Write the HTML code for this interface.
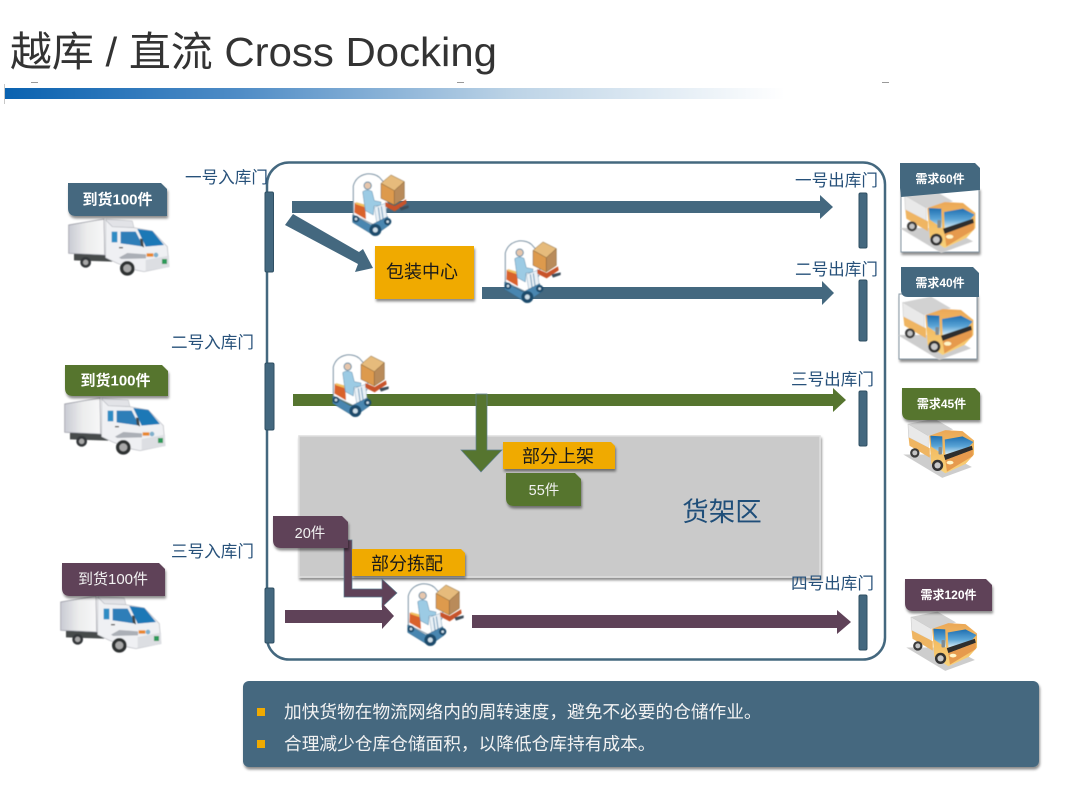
<!DOCTYPE html>
<html lang="zh">
<head>
<meta charset="utf-8">
<style>
html,body{margin:0;padding:0;background:#fff;width:1080px;height:810px;overflow:hidden}
svg{display:block}
text{font-family:"Liberation Sans","Noto Sans CJK SC",sans-serif}
.gate{fill:#44687f;stroke:#2f4f63;stroke-width:1}
.lab{font-size:16.6px;fill:#27517a}
.tag{font-size:15px;font-weight:bold;fill:#fff;text-anchor:middle}
.tag2{font-size:12px;font-weight:bold;fill:#fff;text-anchor:middle}
.blk{font-size:18px;fill:#1a1a1a;text-anchor:middle}
.bul{font-size:17.7px;fill:#f2f2f2}
</style>
</head>
<body>
<svg width="1080" height="810" viewBox="0 0 1080 810" xmlns="http://www.w3.org/2000/svg">
<defs>
<linearGradient id="bar" x1="0" x2="1" y1="0" y2="0">
<stop offset="0" stop-color="#0a62b0"/><stop offset=".3" stop-color="#4f8cc6"/><stop offset=".65" stop-color="#bcd3e6"/><stop offset="1" stop-color="#fff"/>
</linearGradient>
<linearGradient id="boxg" x1="0" x2="1" y1="0" y2="0"><stop offset="0" stop-color="#c9cad3"/><stop offset=".5" stop-color="#eceded"/><stop offset="1" stop-color="#f7f7f8"/></linearGradient>
<linearGradient id="winb" x1="0" x2="0" y1="0" y2="1"><stop offset="0" stop-color="#1f6fb0"/><stop offset=".55" stop-color="#5aa4d6"/><stop offset="1" stop-color="#d8edf6"/></linearGradient>
<linearGradient id="yel" x1="0" x2="0" y1="0" y2="1"><stop offset="0" stop-color="#eba858"/><stop offset=".4" stop-color="#f3bb62"/><stop offset="1" stop-color="#f8d27a"/></linearGradient>
<filter id="sh" x="-10%" y="-10%" width="125%" height="130%"><feDropShadow dx="1" dy="2.5" stdDeviation="1.4" flood-color="#000" flood-opacity=".45"/></filter>
<filter id="soft" x="-5%" y="-5%" width="110%" height="110%"><feGaussianBlur stdDeviation=".4"/></filter>

<symbol id="wt" viewBox="0 0 102 60" overflow="visible">
<g filter="url(#soft)"><g transform="translate(-4,-3) scale(.3333)">
<polygon points="30,116 145,122 145,140 30,136" fill="#474b4c"/>
<polygon points="14,30 120,12 122,120 14,115" fill="url(#boxg)" stroke="#8f919b" stroke-width="2"/>
<polygon points="125,12 205,18 210,38 135,36" fill="#e2e3e7" stroke="#b5b7bd" stroke-width="1.500"/>
<polygon points="125,15 145,35 210,38 265,48 310,95 315,155 240,170 215,165 160,145 125,128" fill="#eff0f3" stroke="#b9bbc1" stroke-width="2"/>
<polygon points="143,50 160,50 160,82 143,82" fill="#2e8cc4"/>
<polygon points="170,50 215,50 238,95 170,85" fill="#2e7eb8"/>
<polygon points="220,42 265,48 300,90 245,95" fill="#1d78b6"/>
<polygon points="228,70 236,72 240,98 230,92" fill="#40474c"/>
<polygon points="165,128 190,114 246,118 246,130 172,132" fill="#abafb6"/>
<rect x="165" y="96" width="12" height="4" fill="#555"/>
<rect x="248" y="115" width="20" height="10" fill="#e8862a"/>
<circle cx="276" cy="120" r="7" fill="#7fb0cc"/>
<polygon points="245,135 315,122 316,156 245,168" fill="#dcdee2"/>
<rect x="294" y="132" width="15" height="15" fill="#2f9a5a"/>
<circle cx="65" cy="142" r="16" fill="#34373a"/><circle cx="65" cy="142" r="8" fill="#a8a8a8"/>
<circle cx="190" cy="160" r="22" fill="#2e3032"/><circle cx="190" cy="160" r="12" fill="#a8a8a8"/>
</g></g>
</symbol>

<symbol id="yt" viewBox="0 0 78 62" overflow="visible">
<g filter="url(#soft)"><g transform="translate(-3,-1) scale(.3333)">
<polygon points="5,120 130,195 225,160 150,120" fill="#cdcdcd"/>
<polygon points="20,22 105,5 165,40 85,60" fill="#d2d2d2"/>
<polygon points="20,22 85,60 85,98 22,65" fill="#e9e9e9" stroke="#c4c4c4" stroke-width="1.500"/>
<polygon points="22,65 90,100 90,130 25,92" fill="#efb562"/>
<polygon points="88,60 140,42 195,45 232,75 232,120 205,150 140,180 95,150" fill="url(#yel)"/>
<polygon points="92,60 130,62 132,120 95,95" fill="url(#winb)"/>
<polygon points="138,72 195,62 230,80 212,100 140,120" fill="url(#winb)"/>
<polygon points="135,122 225,92 228,105 140,138" fill="#2d2d2d"/>
<polygon points="140,138 228,105 228,125 145,175" fill="#e69a4e"/>
<rect x="118" y="96" width="11" height="24" rx="3" fill="#7f8b92"/>
<ellipse cx="155" cy="146" rx="11" ry="6" fill="#fff6c8"/>
<circle cx="42" cy="115" r="15" fill="#3a3a3a"/><circle cx="42" cy="115" r="8" fill="#c4c4c4"/>
<circle cx="115" cy="155" r="18" fill="#333"/><circle cx="115" cy="155" r="10" fill="#c8c8c8"/>
</g></g>
</symbol>

<symbol id="fl" viewBox="0 0 56 65" overflow="visible">
<g filter="url(#soft)"><g transform="translate(-4,-3) scale(.3333)">
<path d="M22,125 V48 Q30,18 62,12 Q85,10 100,22 L125,50 V110 L95,170 L22,135Z" fill="#fff" stroke="#6f8b9f" stroke-width="3"/>
<polygon points="26,98 58,110 60,148 25,128" fill="#d9622a"/>
<polygon points="30,96 55,103 58,112 28,102" fill="#f1c15e"/>
<circle cx="65" cy="47" r="11" fill="#e6c6ac" stroke="#5f8aa5" stroke-width="3"/>
<path d="M50,65 Q62,56 78,64 L85,92 L105,96 L104,106 L84,108 L82,135 L58,122Z" fill="#9ccbe4" stroke="#4f83a5" stroke-width="1.500"/>
<polygon points="85,112 118,100 126,165 96,182" fill="#eaf1f6" stroke="#7fa3bb" stroke-width="1.500"/>
<path d="M97,112 L105,172 M106,109 L114,167" stroke="#6f9cbb" stroke-width="3"/>
<polygon points="20,135 75,165 125,140 130,165 85,197 20,157" fill="#4a86b0" stroke="#2f5f7f" stroke-width="1.500"/>
<polygon points="118,96 146,108 180,88 182,100 146,124 118,110" fill="#c8532a"/>
<polygon points="160,112 188,106 188,114 165,122" fill="#3d4e5a"/>
<polygon points="105,40 135,15 175,35 145,62" fill="#e6bb7c" stroke="#7a5a30" stroke-width="1.500"/>
<polygon points="105,40 145,62 145,105 105,85" fill="#dd9a4e" stroke="#7a5a30" stroke-width="1.500"/>
<polygon points="145,62 175,35 175,85 145,105" fill="#b98b5a" stroke="#7a5a30" stroke-width="1.500"/>
<circle cx="30" cy="147" r="10" fill="#1d4c6c"/><circle cx="30" cy="147" r="4" fill="#cfe0ea"/>
<circle cx="125" cy="155" r="11" fill="#1d4c6c"/><circle cx="125" cy="155" r="4" fill="#cfe0ea"/>
<circle cx="88" cy="180" r="18" fill="#1d4c6c"/><circle cx="88" cy="180" r="7.500" fill="#cfe0ea"/>
</g></g>
</symbol>
</defs>

<rect width="1080" height="810" fill="#fff"/>

<!-- Title -->
<text x="10" y="66" font-size="41" fill="#333" textLength="487" lengthAdjust="spacingAndGlyphs">越库 / 直流 Cross Docking</text>
<rect x="5" y="88" width="780" height="11" fill="url(#bar)"/>
<rect x="4" y="84" width="1" height="20" fill="#c8c8c8"/>
<rect x="31" y="82" width="7" height="1" fill="#999"/><rect x="457" y="82" width="7" height="1" fill="#999"/><rect x="882" y="82" width="7" height="1" fill="#999"/>

<!-- Shelf area -->
<rect x="299" y="436" width="521" height="141" fill="#cacaca" stroke="#dedede" stroke-width="1.500" filter="url(#sh)"/>
<text x="722" y="521" font-size="26.500" fill="#1f4e79" text-anchor="middle">货架区</text>

<!-- Frame -->
<rect x="267" y="162.500" width="618" height="497" rx="22" fill="none" stroke="#44687f" stroke-width="2.500"/>

<!-- Gates -->
<rect class="gate" x="265" y="192" width="8.500" height="80" rx="1.500"/>
<rect class="gate" x="265" y="363" width="9" height="67" rx="1.500"/>
<rect class="gate" x="265" y="588" width="9" height="55" rx="1.500"/>
<rect class="gate" x="859" y="193" width="8" height="55" rx="1.500"/>
<rect class="gate" x="859" y="280" width="8" height="61" rx="1.500"/>
<rect class="gate" x="859" y="391" width="8" height="55" rx="1.500"/>
<rect class="gate" x="859" y="595" width="8" height="55" rx="1.500"/>

<!-- Labels -->
<text class="lab" x="185" y="183">一号入库门</text>
<text class="lab" x="171" y="348">二号入库门</text>
<text class="lab" x="171" y="557">三号入库门</text>
<text class="lab" x="795" y="186">一号出库门</text>
<text class="lab" x="795" y="275">二号出库门</text>
<text class="lab" x="791" y="385">三号出库门</text>
<text class="lab" x="791" y="589">四号出库门</text>

<!-- Blue arrows -->
<polygon points="292,201 820,201 820,195 833,207 820,219 820,213 292,213" fill="#44687f"/>
<polygon points="293,214 359,252 363,249 373,268 355,272 358,264 285,225" fill="#44687f"/>
<polygon points="482,287 822,287 822,281 834,293 822,305 822,299 482,299" fill="#44687f"/>

<!-- Green arrows -->
<polygon points="293,394 833,394 833,388 846,400 833,412 833,406 293,406" fill="#56752f"/>
<polygon points="476,394 487,394 487,450 502,450 481,472 461,450 476,450" fill="#56752f" stroke="#5f7f90" stroke-width=".7"/>

<!-- Purple arrows -->
<polygon points="344,540 352,540 352,589 382,589 382,579 397,593 382,607 382,597 344,597" fill="#5f4258" stroke="#5f7f90" stroke-width=".7"/>
<polygon points="285,610 382,610 382,603 394,616 382,629 382,623 285,623" fill="#5f4258"/>
<polygon points="472,615 837,615 837,610 851,622 837,634 837,628 472,628" fill="#5f4258"/>

<!-- Packaging center -->
<rect x="375" y="246" width="99" height="53" fill="#f0aa00" filter="url(#sh)"/>
<text class="blk" x="422" y="278">包装中心</text>

<!-- Orange and count tags -->
<polygon points="503,442 611,442 615,446 615,469 503,469" fill="#f0aa00" filter="url(#sh)"/>
<text class="blk" x="558" y="462.500">部分上架</text>
<path d="M506,473 H575 L581,479 V506 H514 Q506,506 506,498Z" fill="#56752f" filter="url(#sh)"/>
<text x="544" y="495" font-size="14.500" fill="#f2f2f2" text-anchor="middle">55件</text>
<path d="M273,516 H342 L348,522 V548 H281 Q273,548 273,540Z" fill="#5f4258" filter="url(#sh)"/>
<text x="310" y="538" font-size="14.500" fill="#f2f2f2" text-anchor="middle">20件</text>
<polygon points="352,549 461,549 465,553 465,576 352,576" fill="#f0aa00" filter="url(#sh)"/>
<text class="blk" x="407" y="570">部分拣配</text>

<!-- Forklifts -->
<use href="#fl" x="350" y="173" width="56" height="65"/>
<use href="#fl" x="502" y="240" width="56" height="65"/>
<use href="#fl" x="330" y="354" width="56" height="65"/>
<use href="#fl" x="405" y="583" width="56" height="65"/>

<!-- Left trucks -->
<use href="#wt" x="68" y="218" width="102" height="60"/>
<use href="#wt" x="64" y="397" width="102" height="60"/>
<use href="#wt" x="60" y="595" width="102" height="60"/>

<path d="M68,183 H161 L167,189 V216 H76 Q68,216 68,208Z" fill="#44687f" filter="url(#sh)"/>
<text class="tag" x="117.500" y="204.500">到货100件</text>
<path d="M65,365 H162 L168,371 V396 H73 Q65,396 65,388Z" fill="#56752f" filter="url(#sh)"/>
<text class="tag" x="115.500" y="385.500">到货100件</text>
<path d="M62,563 H159 L165,569 V596 H70 Q62,596 62,588Z" fill="#5f4258" filter="url(#sh)"/>
<text x="113" y="584" font-size="15" fill="#f2f2f2" text-anchor="middle">到货100件</text>

<!-- Right trucks -->
<rect x="901" y="188" width="78" height="64" fill="#fff" stroke="#8a9aa6" stroke-width="1" filter="url(#sh)"/>
<use href="#yt" x="901" y="189" width="78" height="62"/>
<rect x="899" y="294" width="78" height="65" fill="#fff" stroke="#8a9aa6" stroke-width="1" filter="url(#sh)"/>
<use href="#yt" x="899" y="296" width="78" height="62"/>
<use href="#yt" x="904" y="418" width="74" height="58"/>
<use href="#yt" x="907" y="611" width="74" height="58"/>

<path d="M900,163 H975 L980,168 V188 H900Z" fill="#44687f"/>
<polygon points="900,188 980,188 980,190 901,197" fill="#44687f"/>
<text class="tag2" x="940" y="183">需求60件</text>
<path d="M901,267 H973 L979,273 V297 H908 Q901,297 901,290Z" fill="#44687f"/>
<text class="tag2" x="940" y="287">需求40件</text>
<path d="M902,388 H975 L980,393 V420 H910 Q902,420 902,412Z" fill="#56752f" filter="url(#sh)"/>
<text class="tag2" x="941.500" y="408">需求45件</text>
<path d="M905,579 H986 L992,585 V611 H913 Q905,611 905,603Z" fill="#5f4258" filter="url(#sh)"/>
<text class="tag2" x="948.500" y="599">需求120件</text>

<!-- Bottom box -->
<rect x="243" y="681" width="796" height="86" rx="6" fill="#44687f" filter="url(#sh)"/>
<rect x="257" y="708" width="8" height="8" fill="#f0aa00"/>
<rect x="257" y="740" width="8" height="8" fill="#f0aa00"/>
<text class="bul" x="284" y="718">加快货物在物流网络内的周转速度&#xFF0C;避免不必要的仓储作业。</text>
<text class="bul" x="284" y="750">合理减少仓库仓储面积&#xFF0C;以降低仓库持有成本。</text>
</svg>
</body>
</html>
